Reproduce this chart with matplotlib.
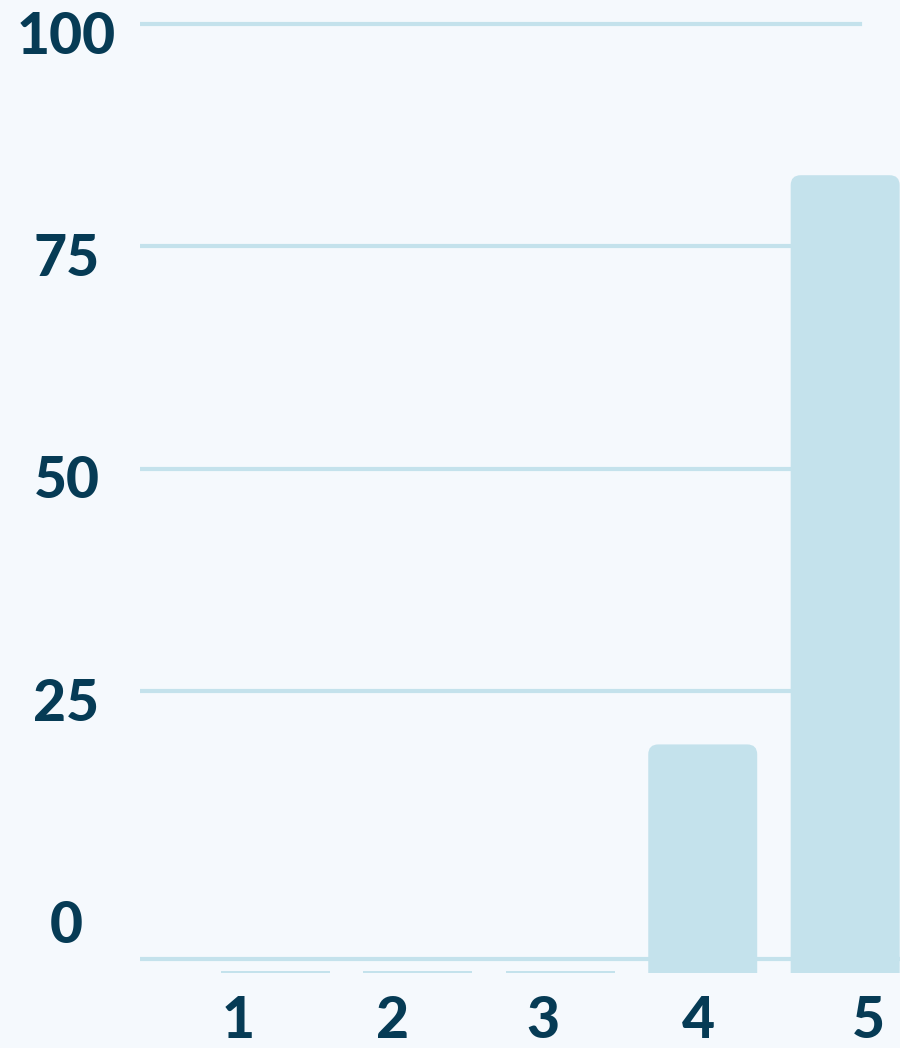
#!/usr/bin/env python3
import matplotlib
matplotlib.use('agg')
import matplotlib.pyplot as plt
import matplotlib.transforms as mtransforms
from matplotlib.patches import FancyBboxPatch
import numpy as np

# data
categories = ['1', '2', '3', '4', '5']
values = np.array([0, 0, 0, 19, 83])
ytick_vals = [0, 25, 50, 75, 100]

# layout (label positions are shifted from the bar centres in the original)
label_x = [-0.26, 0.82, 1.88, 2.97, 4.16]
base = -6.7        # bars start below the 0 line
floor_line = -5.1  # bottom rule

bg = '#f5f9fd'
bar_col = '#c4e2ec'
grid_col = '#c4e2ec'
text_col = '#063b55'

fig = plt.figure(figsize=(9, 10.48), dpi=100)
fig.patch.set_facecolor(bg)
ax = fig.add_axes([140/900, 75/1048, 760/900, 973/1048])
ax.set_facecolor(bg)
ax.set_xlim(-0.951, 4.385)
ax.set_ylim(base, 102.7)

for v in ytick_vals[1:]:
    ax.axhline(v, xmin=0, xmax=0.947, color=grid_col, lw=3, zorder=1)
ax.axhline(floor_line, xmin=0, xmax=1, color=grid_col, lw=3, zorder=1)

x = np.arange(len(categories))
w = 0.765
# px -> data units for the rounded corners
px_x = 1/142.4
px_y = 1/8.893
r = 10
for xi, v in zip(x, values):
    if v > 0:
        p = FancyBboxPatch((xi - w/2, base - r*px_y), w, v - base + r*px_y,
                           boxstyle='round,pad=0,rounding_size=%f' % (r*px_x),
                           mutation_aspect=px_y/px_x,
                           fc=bar_col, ec='none', zorder=2)
        ax.add_patch(p)
    else:
        ax.bar(xi, 0.17, bottom=base, width=w, color=bar_col, zorder=2)

for s in ax.spines.values():
    s.set_visible(False)
ax.tick_params(length=0)

fnt = dict(family=['Lato', 'DejaVu Sans'], weight='black', size=41)
ax.set_yticks(ytick_vals)
ax.set_yticklabels([str(v) for v in ytick_vals], color=text_col, **fnt)
ax.tick_params(axis='y', pad=53)
off = mtransforms.ScaledTranslation(0, -8/100, fig.dpi_scale_trans)
for lab in ax.get_yticklabels():
    lab.set_horizontalalignment('center')
    lab.set_transform(lab.get_transform() + off)

ax.set_xticks(label_x)
ax.set_xticklabels(categories, color=text_col, **fnt)
ax.tick_params(axis='x', pad=35)
for lab in ax.get_xticklabels():
    lab.set_verticalalignment('center')

plt.savefig('out.png', dpi=100, facecolor=bg)
plt.close('all')
